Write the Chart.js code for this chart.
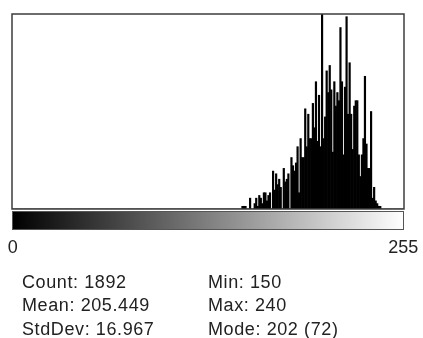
<!DOCTYPE html>
<html lang="en">
<head>
  <meta charset="UTF-8">
  <title>Histogram</title>
  <script src="https://cdn.jsdelivr.net/npm/chart.js"></script>
  <style>
    body {
      margin: 0;
      background: #fff;
      font-family: "Liberation Sans", Arial, sans-serif;
    }
    #wrap {
      position: relative;
      width: 423px;
      height: 338px;
    }
    .stat {
      position: absolute;
      font-size: 18px;
      line-height: 18px;
      letter-spacing: 0.6px;
      color: #222;
      white-space: nowrap;
    }
  </style>
</head>
<body>
  <div id="wrap">
    <canvas id="hist" width="423" height="338"></canvas>
  </div>

  <script>
    // histogram of an 8-bit image, bins 0..255, non-empty from 150 to 240
    const binStart = 150;
    const counts = [
      1, 1, 1, 0, 0, 4, 0, 0, 2, 4,          // 150-159
      1, 5, 4, 2, 6, 6, 3, 5, 6, 0,          // 160-169
      14, 7, 13, 9, 11, 8, 0, 15, 10, 11,    // 170-179
      13, 0, 19, 16, 14, 17, 23, 6, 26, 19,  // 180-189
      19, 37, 23, 35, 26, 26, 39, 30, 47, 25,// 190-199
      42, 23, 72, 26, 34, 51, 43, 53, 44, 21,// 200-209
      47, 38, 43, 40, 67, 47, 20, 45, 71, 35,// 210-219
      54, 35, 22, 38, 40, 40, 20, 12, 20, 26,// 220-229
      49, 24, 15, 15, 36, 4, 8, 3, 2, 1, 1   // 230-240
    ];
    const tickLabels = { 0: "0", 255: "255" };
    const statsLeft = ["Count: 1892", "Mean: 205.449", "StdDev: 16.967"];
    const statsRight = ["Min: 150", "Max: 240", "Mode: 202 (72)"];

    const bins = [];
    const values = [];
    for (let i = 0; i < 256; i++) {
      bins.push(String(i));
      const k = i - binStart;
      values.push(k >= 0 && k < counts.length ? counts[k] : 0);
    }

    // frame around the plot and the grey ramp under it
    const histFrame = {
      id: "histFrame",
      afterDraw(chart) {
        const { ctx, chartArea: a } = chart;
        ctx.save();
        ctx.strokeStyle = "#3c3c3c";
        ctx.lineWidth = 1.5;
        ctx.strokeRect(a.left, a.top, a.right - a.left, a.bottom - a.top);

        const top = a.bottom + 2.5;
        const h = 18;
        const g = ctx.createLinearGradient(a.left, 0, a.right, 0);
        g.addColorStop(0, "#000");
        g.addColorStop(1, "#fff");
        ctx.fillStyle = g;
        ctx.fillRect(a.left, top, a.right - a.left, h);
        ctx.strokeStyle = "#555";
        ctx.lineWidth = 1;
        ctx.strokeRect(a.left + 0.5, top, a.right - a.left - 1, h);
        ctx.restore();
      }
    };

    new Chart(document.getElementById("hist"), {
      type: "bar",
      data: {
        labels: bins,
        datasets: [{
          data: values,
          backgroundColor: "#000",
          borderWidth: 0,
          barPercentage: 1,
          categoryPercentage: 1
        }]
      },
      options: {
        responsive: false,
        animation: false,
        layout: { padding: { left: 12, right: 19, top: 14, bottom: 80 } },
        plugins: {
          legend: { display: false },
          tooltip: { enabled: false }
        },
        scales: {
          x: {
            grid: { display: false },
            border: { display: false },
            ticks: {
              autoSkip: false,
              maxRotation: 0,
              minRotation: 0,
              padding: 20,
              color: "#222",
              font: { family: "'Liberation Sans', Arial, sans-serif", size: 18 },
              callback: (v, i) => tickLabels[i] || ""
            },
            afterFit(s) {
              s.height = 49;
              s.paddingLeft = 0;
              s.paddingRight = 0;
            }
          },
          y: { display: false, min: 0, max: 72 }
        }
      },
      plugins: [histFrame]
    });

    const wrap = document.getElementById("wrap");
    const tops = [273, 296, 320];
    function addStats(lines, left) {
      lines.forEach((t, i) => {
        const d = document.createElement("div");
        d.className = "stat";
        d.style.left = left + "px";
        d.style.top = tops[i] + "px";
        d.textContent = t;
        wrap.appendChild(d);
      });
    }
    addStats(statsLeft, 22);
    addStats(statsRight, 208);
  </script>
</body>
</html>
